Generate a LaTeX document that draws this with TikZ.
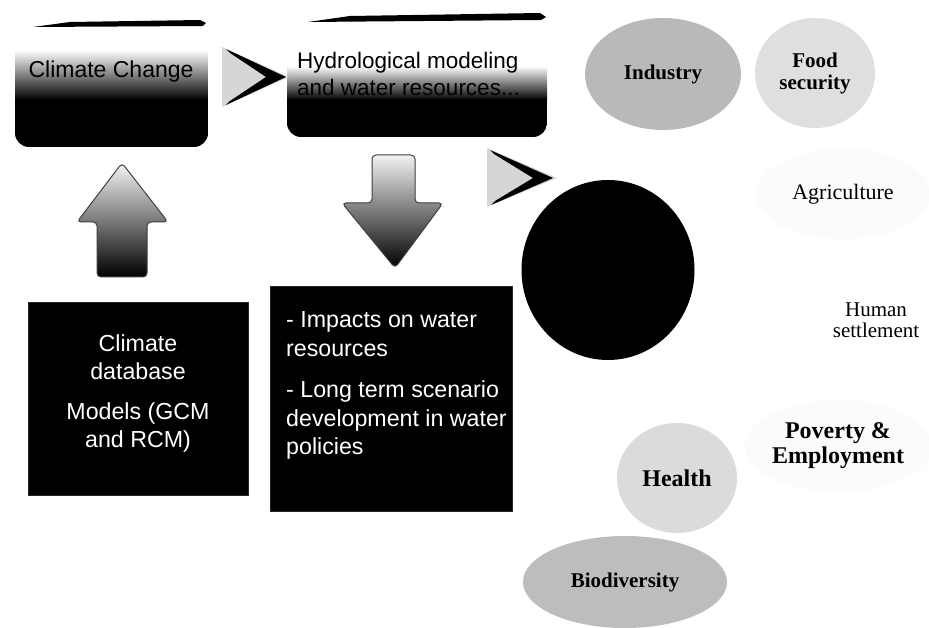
\documentclass[tikz,border=0pt]{standalone}
\usepackage{fontspec}
\setmainfont{Liberation Serif}
\setsansfont{Liberation Sans}
\usetikzlibrary{shapes.geometric}
\begin{document}
\begin{tikzpicture}[x=1pt,y=-1pt,
  boxtxt/.style={font=\sffamily\fontsize{23}{27}\selectfont, inner sep=0pt, text=black},
  blackbox/.style={fill=black, draw=black!85, line width=0.6pt, inner sep=0pt},
  whitetxt/.style={text=white, font=\sffamily\fontsize{23.2}{28.5}\selectfont, inner sep=0pt},
  bub/.style={ellipse, inner sep=0pt},
  serifb/.style={font=\bfseries\fontsize{21}{22}\selectfont, align=center, inner sep=0pt},
  serifr/.style={font=\fontsize{22}{22}\selectfont, align=center, inner sep=0pt},
  blockarrow/.style={rounded corners=4pt, draw=black!75, line width=1pt},
  chevfill/.style={fill=gray!32},
  chevdark/.style={fill=black}
]
\fill[white] (0,0) rectangle (929,628);
\useasboundingbox (0,0) rectangle (929,628);

% ---------- Climate Change box ----------
\begin{scope}
  \clip[rounded corners=14pt] (15,30) rectangle (208,147);
  \fill[white] (15,30) rectangle (208,147);
  \shade[top color=white, middle color=gray!35, bottom color=black] (15,50) rectangle (208,100);
  \fill[black] (15,99) rectangle (208,147);
\end{scope}
\fill[black] (33,27) -- (70,22) -- (200,20) -- (206,23) -- (203,26) -- cycle;
\node[boxtxt] (cc) at (111,72) {Climate Change};

% ---------- Hydrological box ----------
\begin{scope}
  \clip[rounded corners=14pt] (287,26) rectangle (547,137);
  \fill[white] (287,26) rectangle (547,137);
  \shade[top color=white, middle color=gray!60, bottom color=black] (287,66) rectangle (547,100);
  \fill[black] (287,99) rectangle (547,137);
\end{scope}
\fill[black] (308,22) -- (350,16) -- (540,13) -- (546,17) -- (541,20) -- cycle;
\node[boxtxt, font=\sffamily\fontsize{22.5}{27}\selectfont, align=left, anchor=west] (hy) at (297,73.5)
  {Hydrological modeling\\and water resources...};

% ---------- chevron triangles ----------
\fill[chevfill] (222,47) -- (289,77) -- (222,107) -- cycle;
\fill[chevdark] (226,49) -- (286,77) -- (226,105) -- (230,101) -- (266,77) -- (230,53) -- cycle;
\fill[chevfill] (487,148) -- (557,178) -- (487,207) -- cycle;
\fill[chevdark] (490,150) -- (553,178) -- (491,205) -- (495,201) -- (533,178) -- (494,154) -- cycle;

% ---------- block arrows ----------
\shade[blockarrow, top color=gray!8, middle color=gray!50, bottom color=black]
  (122,163) -- (168,222) -- (147,222) -- (147,277) -- (97,277) -- (97,222) -- (77,222) -- cycle;
\shade[blockarrow, top color=gray!10, middle color=gray!50, bottom color=black]
  (372,155) -- (415,155) -- (415,203) -- (443,203) -- (395,268) -- (342,203) -- (372,203) -- cycle;

% ---------- black text boxes ----------
\node[blackbox, minimum width=220pt, minimum height=193pt] (db) at (138,398.5) {};
\node[whitetxt, align=center] (dbt) at (138,393.5)
  {Climate\\database\\[11pt]Models (GCM\\and RCM)};
\node[blackbox, minimum width=242pt, minimum height=225pt] (imp) at (391,398.5) {};
\node[whitetxt, align=left, anchor=west] (impt) at (286,385.5)
  {- Impacts on water\\resources\\[13pt]- Long term scenario\\development in water\\policies};

% ---------- right side bubbles ----------
\node[bub, fill=black, minimum width=173pt, minimum height=180pt] (water) at (608,270) {};
\node[bub, fill=gray!55, minimum width=156pt, minimum height=112pt, serifb] (ind) at (663,74) {Industry};
\node[bub, fill=gray!25, minimum width=120pt, minimum height=110pt, serifb] (food) at (815,73) {Food\\security};
\node[bub, fill=gray!3, minimum width=174pt, minimum height=90pt, serifr] (agri) at (843,194) {Agriculture};
\node[serifr, font=\fontsize{21}{20.5}\selectfont] (hum) at (876,320) {Human\\settlement};
\node[bub, fill=gray!3, minimum width=178pt, minimum height=92pt, serifb, font=\bfseries\fontsize{24}{25}\selectfont] (pov) at (838,446) {Poverty \&\\Employment};
\node[bub, fill=gray!28, minimum width=120pt, minimum height=110pt, serifb, font=\bfseries\fontsize{24}{25}\selectfont] (hea) at (677,478) {Health};
\node[bub, fill=gray!52, minimum width=204pt, minimum height=92pt, serifb, font=\bfseries\fontsize{21}{22}\selectfont] (bio) at (625,582) {Biodiversity};
\end{tikzpicture}
\end{document}
